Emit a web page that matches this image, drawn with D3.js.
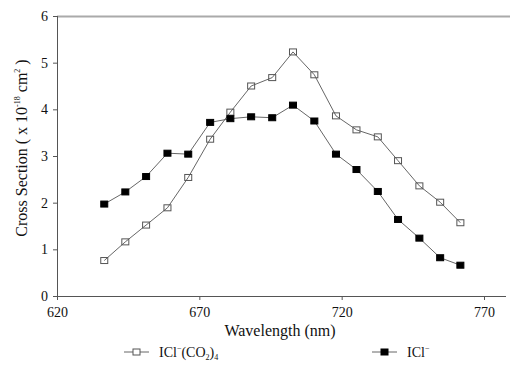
<!DOCTYPE html>
<html>
<head>
<meta charset="utf-8">
<script src="https://cdn.jsdelivr.net/npm/d3@7"></script>
<style>
  html, body { margin: 0; padding: 0; background: #fff; }
  svg { display: block; }
  text { font-family: "Liberation Serif", "Times New Roman", serif; fill: #111; }
</style>
</head>
<body>
<svg id="chart" width="510" height="368"></svg>
<script>
// Photodissociation cross sections vs. wavelength
const wavelengths = [636.6, 644.0, 651.3, 658.8, 666.1, 673.8, 680.9, 688.2, 695.6,
                     702.9, 710.4, 718.0, 725.2, 732.7, 739.8, 747.3, 754.6, 761.7];
const clusterValues = [0.76, 1.16, 1.52, 1.89, 2.54, 3.36, 3.94, 4.50, 4.68,
                       5.23, 4.74, 3.86, 3.56, 3.41, 2.90, 2.36, 2.01, 1.57];
const bareValues = [1.97, 2.23, 2.56, 3.06, 3.04, 3.72, 3.80, 3.84, 3.82,
                    4.09, 3.75, 3.04, 2.71, 2.24, 1.64, 1.24, 0.82, 0.66];
const xTicks = [620, 670, 720, 770];
const yTicks = [0, 1, 2, 3, 4, 5, 6];

const svg = d3.select("#chart");
const x = d3.scaleLinear().domain([620, 770]).range([57, 484]);
const y = d3.scaleLinear().domain([0, 6]).range([296, 16]);
const serif = "'Liberation Serif', 'Times New Roman', serif";

// frame: gray top rule, axes on left and bottom
svg.append("line").attr("x1", 57).attr("x2", 510).attr("y1", 16.5).attr("y2", 16.5)
  .attr("stroke", "#aaa").attr("stroke-width", 2);

const xAxis = svg.append("g").attr("transform", "translate(0,296)")
  .call(d3.axisBottom(x).tickValues(xTicks).tickSize(4).tickPadding(7).tickFormat(d3.format("d")));
xAxis.select(".domain").attr("d", "M57,0.5H506").attr("stroke", "#555");
xAxis.selectAll(".tick line").attr("stroke", "#555");
xAxis.selectAll("text").attr("font-size", 14).attr("fill", "#111").style("font-family", serif);

const yAxis = svg.append("g").attr("transform", "translate(57,0)")
  .call(d3.axisLeft(y).tickValues(yTicks).tickSize(4).tickPadding(5).tickFormat(d3.format("d")));
yAxis.select(".domain").attr("d", "M0.5,16V296").attr("stroke", "#555");
yAxis.selectAll(".tick line").attr("stroke", "#555");
yAxis.selectAll("text").attr("font-size", 14).attr("fill", "#111").style("font-family", serif);

// axis titles
svg.append("text").attr("x", 280).attr("y", 336).attr("text-anchor", "middle")
  .attr("font-size", 16).text("Wavelength (nm)");

const yt = svg.append("text").attr("transform", "translate(27,148) rotate(-90)")
  .attr("text-anchor", "middle").attr("font-size", 16);
yt.append("tspan").text("Cross Section ( x 10");
yt.append("tspan").attr("dy", -7).attr("font-size", 8).text("-18");
yt.append("tspan").attr("dy", 7).text(" cm");
yt.append("tspan").attr("dy", -7).attr("font-size", 8).text("2");
yt.append("tspan").attr("dy", 7).text(" )");

// series
const line = d3.line().x(d => x(d[0])).y(d => y(d[1]));
const series = [
  { values: clusterValues, filled: false },
  { values: bareValues, filled: true }
];
const sq = 7, sqh = 6;
series.forEach(s => {
  const pts = wavelengths.map((w, i) => [w, s.values[i]]);
  svg.append("path").datum(pts).attr("d", line)
    .attr("fill", "none").attr("stroke", "#555").attr("stroke-width", 0.9);
  svg.append("g").selectAll("rect").data(pts).join("rect")
    .attr("x", d => x(d[0]) - sq / 2).attr("y", d => y(d[1]) - sqh / 2)
    .attr("width", sq).attr("height", sqh)
    .attr("fill", s.filled ? "#000" : "none")
    .attr("stroke", s.filled ? "#000" : "#555").attr("stroke-width", 1);
});

// legend
function legendItem(x0, filled, build) {
  const yc = 352;
  svg.append("line").attr("x1", x0).attr("x2", x0 + 25).attr("y1", yc).attr("y2", yc)
    .attr("stroke", "#555").attr("stroke-width", 0.9);
  svg.append("rect").attr("x", x0 + 12.5 - sq / 2).attr("y", yc - sqh / 2)
    .attr("width", sq).attr("height", sqh)
    .attr("fill", filled ? "#000" : "#fff").attr("stroke", filled ? "#000" : "#555");
  const t = svg.append("text").attr("x", x0 + 35).attr("y", yc + 5).attr("font-size", 14);
  build(t);
}
legendItem(124, false, t => {
  t.append("tspan").text("ICl");
  t.append("tspan").attr("dy", -6).attr("font-size", 8).text("−");
  t.append("tspan").attr("dy", 6).text("(CO");
  t.append("tspan").attr("dy", 3).attr("font-size", 8).text("2");
  t.append("tspan").attr("dy", -3).text(")");
  t.append("tspan").attr("dy", 3).attr("font-size", 8).text("4");
});
legendItem(372, true, t => {
  t.append("tspan").text("ICl");
  t.append("tspan").attr("dy", -6).attr("font-size", 8).text("−");
});
</script>
</body>
</html>
